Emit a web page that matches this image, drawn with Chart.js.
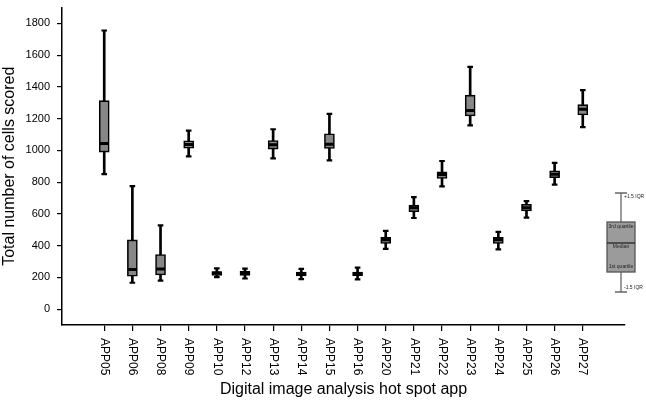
<!DOCTYPE html>
<html>
<head>
<meta charset="utf-8">
<script src="https://cdn.jsdelivr.net/npm/chart.js@4"></script>
<style>
  html, body { margin: 0; padding: 0; background: #fff; }
  #wrap { width: 646px; height: 400px; }
</style>
</head>
<body>
<div id="wrap"><canvas id="boxChart" width="646" height="400"></canvas></div>
<script>
// apps on the x axis
var apps = ["APP05","APP06","APP08","APP09","APP10","APP12","APP13","APP14","APP15","APP16",
            "APP20","APP21","APP22","APP23","APP24","APP25","APP26","APP27"];

// box plot values
var lowWhisker  = [850, 166, 180, 962, 201, 193, 950, 189, 937, 187, 380, 574, 773, 1157, 377, 576, 784, 1147];
var firstQuart  = [989, 207, 215, 1014, 212, 212, 1008, 209, 1012, 210, 414, 614, 823, 1217, 414, 618, 828, 1223];
var medians     = [1043, 249, 253, 1037, 228, 226, 1035, 220, 1039, 220, 437, 638, 848, 1251, 437, 638, 850, 1259];
var thirdQuart  = [1313, 436, 344, 1060, 236, 238, 1062, 234, 1105, 234, 452, 655, 865, 1348, 452, 660, 871, 1288];
var highWhisker = [1755, 775, 527, 1124, 257, 255, 1133, 253, 1230, 261, 493, 705, 933, 1526, 487, 680, 921, 1379];

// y ticks
var yTicks = [0, 200, 400, 600, 800, 1000, 1200, 1400, 1600, 1800];

var FONT = "'Liberation Sans', Arial, sans-serif";

function pairs(lo, hi){
  return apps.map(function(a, i){ return {x: i, y: [lo[i], hi[i]]}; });
}
function points(vals){
  return apps.map(function(a, i){ return {x: i, y: vals[i]}; });
}

// app names written downwards under the ticks
var appLabels = {
  id: 'appLabels',
  afterDraw: function(chart){
    var ctx = chart.ctx;
    var xs = chart.scales.x;
    ctx.save();
    ctx.fillStyle = '#000';
    ctx.font = '12px ' + FONT;
    ctx.textAlign = 'left';
    ctx.textBaseline = 'middle';
    apps.forEach(function(a, i){
      ctx.save();
      ctx.translate(xs.getPixelForValue(i), xs.top + 13);
      ctx.rotate(Math.PI / 2);
      ctx.fillText(a, 0, 0);
      ctx.restore();
    });
    ctx.restore();
  }
};

// little key box at the right side
var keyBox = {
  id: 'keyBox',
  afterDraw: function(chart){
    var ctx = chart.ctx;
    var area = chart.chartArea;
    var cx = area.right - 4;
    var top = 193, q3 = 222, med = 243, q1 = 272, bot = 292;
    ctx.save();
    ctx.strokeStyle = '#666';
    ctx.lineWidth = 1.3;
    ctx.beginPath();
    ctx.moveTo(cx, top); ctx.lineTo(cx, q3);
    ctx.moveTo(cx, q1); ctx.lineTo(cx, bot);
    ctx.moveTo(cx - 6, top); ctx.lineTo(cx + 6, top);
    ctx.moveTo(cx - 6, bot); ctx.lineTo(cx + 6, bot);
    ctx.stroke();
    ctx.fillStyle = '#9b9b9b';
    ctx.fillRect(cx - 14, q3, 28, q1 - q3);
    ctx.strokeStyle = '#555';
    ctx.strokeRect(cx - 14, q3, 28, q1 - q3);
    ctx.strokeStyle = '#222';
    ctx.lineWidth = 1.3;
    ctx.beginPath();
    ctx.moveTo(cx - 14, med); ctx.lineTo(cx + 14, med);
    ctx.stroke();
    ctx.fillStyle = '#222';
    ctx.font = '5px ' + FONT;
    ctx.textBaseline = 'middle';
    ctx.textAlign = 'left';
    ctx.fillText('+1.5 IQR', cx + 3, top + 4);
    ctx.fillText('-1.5 IQR', cx + 3, bot - 4);
    ctx.textAlign = 'center';
    ctx.fillText('3rd quartile', cx, q3 + 5);
    ctx.fillText('Median', cx, med + 4);
    ctx.fillText('1st quartile', cx, q1 - 5);
    ctx.restore();
  }
};

function drawChart(){
  var ctx = document.getElementById('boxChart').getContext('2d');
  var chart = new Chart(ctx, {
    type: 'bar',
    data: {
      datasets: [
        {
          // whisker line
          label: 'range',
          data: pairs(lowWhisker, highWhisker),
          backgroundColor: '#000',
          barThickness: 2,
          grouped: false,
          order: 4
        },
        {
          // the box
          label: 'iqr',
          data: pairs(firstQuart, thirdQuart),
          backgroundColor: '#878787',
          borderColor: '#000',
          borderWidth: 1.6,
          borderSkipped: false,
          barThickness: 10,
          grouped: false,
          order: 3
        },
        {
          type: 'scatter',
          label: 'caps low',
          data: points(lowWhisker),
          pointStyle: 'line',
          radius: 2.8,
          borderWidth: 2.2,
          borderColor: '#000',
          order: 2
        },
        {
          type: 'scatter',
          label: 'caps high',
          data: points(highWhisker),
          pointStyle: 'line',
          radius: 2.8,
          borderWidth: 2.2,
          borderColor: '#000',
          order: 2
        },
        {
          type: 'scatter',
          label: 'median',
          data: points(medians),
          pointStyle: 'line',
          radius: 4.5,
          borderWidth: 3,
          borderColor: '#000',
          order: 1
        }
      ]
    },
    options: {
      responsive: false,
      animation: false,
      layout: { padding: { top: 1, right: 21, left: 0, bottom: 0 } },
      plugins: {
        legend: { display: false },
        tooltip: { enabled: false }
      },
      scales: {
        x: {
          type: 'linear',
          min: -1.5,
          max: 18.5,
          offset: false,
          afterBuildTicks: function(scale){
            scale.ticks = apps.map(function(a, i){ return {value: i}; });
          },
          afterFit: function(scale){
            scale.height = 75;
            scale.paddingLeft = 0; scale.paddingRight = 0;
          },
          grid: { offset: false, drawOnChartArea: false, color: '#000', tickLength: 6, lineWidth: 1.2 },
          border: { color: '#000', width: 1.5 },
          ticks: { display: false },
          title: {
            display: true,
            text: 'Digital image analysis hot spot app',
            color: '#000',
            font: { family: FONT, size: 16 },
            padding: { top: 0, bottom: 1 }
          }
        },
        y: {
          min: -100,
          max: 1900,
          afterBuildTicks: function(scale){
            scale.ticks = yTicks.map(function(v){ return {value: v}; });
          },
          afterFit: function(scale){
            scale.width = 62;
            scale.paddingTop = 0; scale.paddingBottom = 0;
          },
          grid: { drawOnChartArea: false, color: '#000', tickLength: 5, lineWidth: 1.2 },
          border: { color: '#000', width: 1.5 },
          ticks: {
            color: '#000',
            padding: 7,
            font: { family: FONT, size: 11 },
            callback: function(v){ return String(v); }
          },
          title: {
            display: true,
            text: 'Total number of cells scored',
            color: '#000',
            font: { family: FONT, size: 16 },
            padding: { top: 0, bottom: 0 }
          }
        }
      }
    },
    plugins: [appLabels, keyBox]
  });
}

drawChart();
</script>
</body>
</html>
